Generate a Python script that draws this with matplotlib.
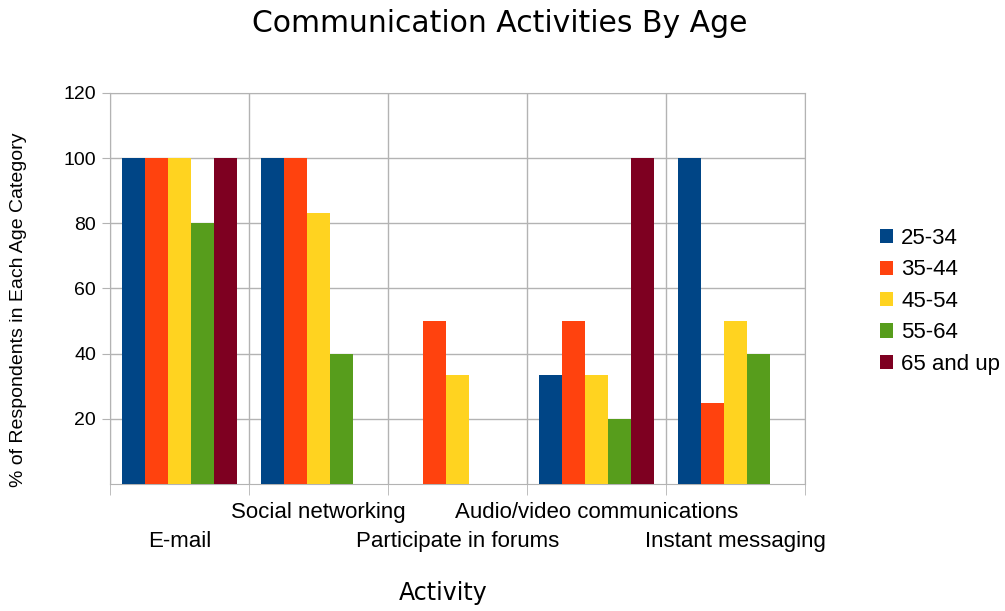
import matplotlib.pyplot as plt
import numpy as np

activities = ['E-mail', 'Social networking', 'Participate in forums',
              'Audio/video communications', 'Instant messaging']
age_groups = ['25-34', '35-44', '45-54', '55-64', '65 and up']
colors = ['#004586', '#ff420e', '#ffd320', '#579d1c', '#7e0021']

# percent of respondents per age group, one list per group
vals_25_34 = [100, 100, 0, 33.3, 100]
vals_35_44 = [100, 100, 50, 50, 25]
vals_45_54 = [100, 83.3, 33.3, 33.3, 50]
vals_55_64 = [80, 40, 0, 20, 40]
vals_65_up = [100, 0, 0, 100, 0]
series = [vals_25_34, vals_35_44, vals_45_54, vals_55_64, vals_65_up]

fig = plt.figure(figsize=(10.05, 6.11), dpi=100)
ax = fig.add_axes([0.1095, 0.2079, 0.6915, 0.6399])

x = np.arange(len(activities))
w = 0.166
for i, (vals, c, lab) in enumerate(zip(series, colors, age_groups)):
    ax.bar(x + (i - 2) * w, vals, w, color=c, label=lab, zorder=3)

ax.set_xlim(-0.5, len(activities) - 0.5)
ax.set_ylim(0, 120)
ax.set_yticks([20, 40, 60, 80, 100, 120])
ax.set_xticks(np.arange(-0.5, len(activities)), minor=True)
ax.set_xticks([])
ax.tick_params(axis='x', which='minor', length=8, color='#b3b3b3', labelbottom=False)
ax.tick_params(axis='y', length=6, color='#b3b3b3', labelsize=14, pad=4)
for t in ax.get_yticklabels():
    t.set_family('Liberation Sans')
ax.grid(True, axis='y', color='#b3b3b3', lw=1, zorder=0)
ax.grid(True, axis='x', which='minor', color='#b3b3b3', lw=1, zorder=0)
for s in ax.spines.values():
    s.set_color('#b3b3b3')

tr = ax.get_xaxis_transform()
for i, a in enumerate(activities):
    yy = -0.146 if i % 2 == 0 else -0.074
    ax.text(i, yy, a, transform=tr, ha='center', va='center',
            fontsize=16, family='Liberation Sans')

fig.text(0.497, 0.962, 'Communication Activities By Age', ha='center', va='center',
         fontsize=21.5, family='DejaVu Sans')
fig.text(0.441, 0.03, 'Activity', ha='center', va='center', fontsize=17, family='DejaVu Sans')
fig.text(0.018, 0.493, '% of Respondents in Each Age Category', rotation=90,
         ha='center', va='center', fontsize=14, family='Liberation Sans')

ax.legend(loc='center left', bbox_to_anchor=(1.095, 0.467), frameon=False,
          prop={'family': 'Liberation Sans', 'size': 16}, handlelength=0.6,
          handleheight=0.6, handletextpad=0.35, labelspacing=0.47,
          borderaxespad=0)

fig.savefig('out.png', dpi=100)
